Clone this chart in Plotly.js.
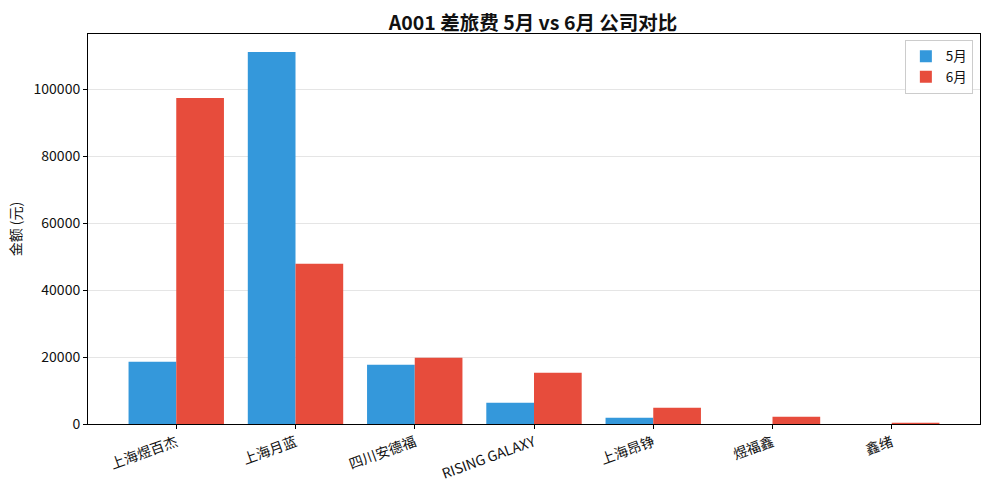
<!DOCTYPE html>
<html>
<head>
<meta charset="utf-8">
<script src="https://cdn.plot.ly/plotly-3.0.1.min.js"></script>
<style>html,body{margin:0;padding:0;background:#fff;}#chart{width:989px;height:490px;}</style>
</head>
<body>
<div id="chart"></div>
<script>
const companies = ["上海煜百杰", "上海月蓝", "四川安德福", "RISING GALAXY", "上海昂铮", "煜福鑫", "鑫绪"];
const mayValues = [18600, 111100, 17700, 6350, 1880, 0, 0];
const junValues = [97400, 47850, 19800, 15300, 4870, 2180, 400];
const seriesNames = ["5月", "6月"];
const titleText = "A001 差旅费 5月 vs 6月 公司对比";
const yTitle = "金额 (元)";

const font = "Noto Sans CJK SC, Noto Sans, sans-serif";
const xIdx = companies.map((c, i) => i);

const traces = [
  {type: "bar", name: seriesNames[0], x: xIdx, y: mayValues, marker: {color: "#3498db", line: {width: 0}}, offset: -0.4, width: 0.4},
  {type: "bar", name: seriesNames[1], x: xIdx, y: junValues, marker: {color: "#e74c3c", line: {width: 0}}, offset: 0, width: 0.4}
];

const layout = {
  width: 989, height: 490,
  font: {family: font, size: 14, color: "#111"},
  paper_bgcolor: "#fff", plot_bgcolor: "#fff",
  margin: {l: 88, r: 9, t: 34, b: 66},
  title: {text: titleText, font: {family: font, size: 19.5, color: "#111", weight: "bold"}, x: 0.539, xanchor: "center", yref: "paper", y: 1, yanchor: "bottom", pad: {b: 4}},
  barmode: "overlay",
  showlegend: true,
  legend: {x: 0.992, y: 0.985, xanchor: "right", yanchor: "top", bordercolor: "#ccc", borderwidth: 1, bgcolor: "rgba(255,255,255,0.9)", font: {size: 13.5}},
  xaxis: {
    range: [-0.74, 6.74],
    tickmode: "array", tickvals: xIdx, ticktext: companies,
    tickangle: -20,
    ticks: "outside", ticklen: 4, tickcolor: "#000",
    showline: true, linecolor: "#000", linewidth: 1, mirror: true,
    showgrid: false, zeroline: false,
    tickfont: {size: 14}
  },
  yaxis: {
    range: [0, 116500],
    tickmode: "array", tickvals: [0, 20000, 40000, 60000, 80000, 100000],
    ticktext: ["0", "20000", "40000", "60000", "80000", "100000"],
    ticks: "outside", ticklen: 4, tickcolor: "#000",
    showline: true, linecolor: "#000", linewidth: 1, mirror: true,
    showgrid: true, gridcolor: "#e5e5e5", gridwidth: 1,
    zeroline: false,
    title: {text: yTitle, font: {size: 14}, standoff: 8},
    tickfont: {size: 14}
  }
};

Plotly.newPlot("chart", traces, layout, {displayModeBar: false, staticPlot: true});
</script>
</body>
</html>
